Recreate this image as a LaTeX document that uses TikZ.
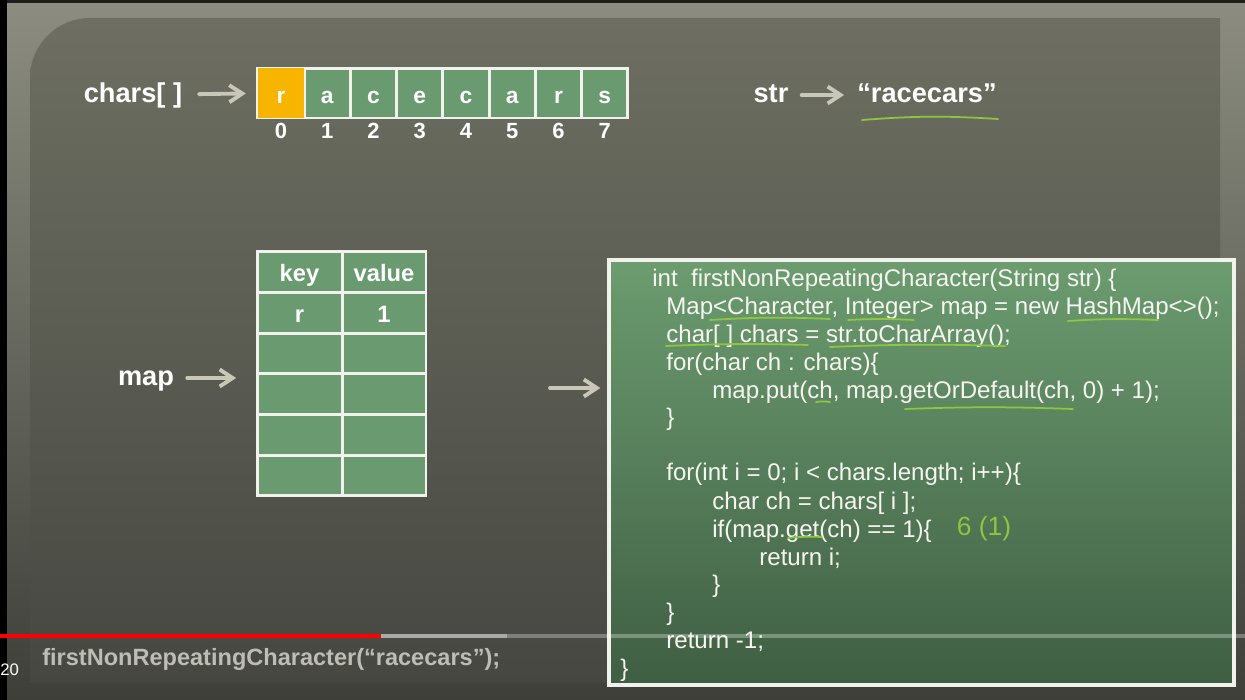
\documentclass[tikz,border=0pt]{standalone}
\usepackage{fontspec}
\setmainfont{Liberation Sans}
\usepackage{xcolor}
\definecolor{RimTop}{HTML}{8C8D80}
\definecolor{RimBot}{HTML}{3E3F39}
\definecolor{BoardTop}{HTML}{6E6F62}
\definecolor{BoardBot}{HTML}{464741}
\definecolor{Strip}{HTML}{1E1E1E}
\definecolor{Cell}{HTML}{6A9A6F}
\definecolor{Gold}{HTML}{F7B500}
\definecolor{Frame}{HTML}{F2F2EC}
\definecolor{Pointer}{HTML}{C9C7B8}
\definecolor{Lime}{HTML}{8DC63F}
\definecolor{Chalk}{HTML}{F6F6F0}
\definecolor{CodeTop}{HTML}{6C9C70}
\definecolor{CodeBot}{HTML}{3F5E43}
\definecolor{Call}{HTML}{BDBDB5}
\definecolor{Seek}{HTML}{A9A9A5}
\usetikzlibrary{arrows.meta}

\begin{document}
\begin{tikzpicture}[x=0.02cm,y=-0.02cm,
  ptr/.style={-{Straight Barb[length=2.6mm,width=3.4mm]},line width=2.2pt,Pointer,line cap=round},
  lbl/.style={text=white,text height=11pt,text depth=3pt,font=\fontsize{15.5}{18}\selectfont\bfseries},
  cell/.style={draw=Frame,line width=1.7pt,fill=Cell,minimum width=0.925cm,minimum height=1cm,inner sep=0pt,text height=12pt,text depth=0.6pt,text=white,font=\fontsize{13}{15}\selectfont\bfseries},
  idx/.style={text=white,font=\fontsize{12.5}{14}\selectfont\bfseries},
  slot/.style={draw=Frame,line width=1.7pt,fill=Cell,minimum height=0.813cm,inner sep=0pt,text height=12pt,text depth=1pt,text=white,font=\fontsize{13.5}{16}\selectfont\bfseries},
  loc/.style={anchor=base west,inner sep=0pt,text=Chalk,font=\fontsize{13.7}{16}\selectfont},
  scrawl/.style={Lime,line width=1pt,line cap=round}]
\useasboundingbox (0,0) rectangle (1245,700);
% slide background
\fill[black] (0,0) rectangle (1245,700);
\shade[top color=RimTop,bottom color=RimBot] (7,3) rectangle (1245,700);
\fill[Strip] (7,0) rectangle (1245,3);
\shade[top color=BoardTop,bottom color=BoardBot] (30,683) -- (30,78) arc[start angle=180,end angle=270,radius=60] -- (1220,18) -- (1220,683) -- cycle;

% chars array
\node[lbl] (chars) at (133,95) {chars[ ]};
\foreach \ch [count=\i from 0] in {r,a,c,e,c,a,r,s}{
  \node[cell] (a\i) at ({281+46.25*\i},93) {\ch};
  \node[idx] (i\i) at ({281+46.25*\i},131) {\i};
}
\fill[Gold] ([xshift=0.85pt,yshift=-0.85pt]a0.north west) rectangle ([xshift=-0.85pt,yshift=0.85pt]a0.south east);
\node[cell,draw=none,fill=none] at (a0) {r};
\draw[ptr,shorten <=6pt,shorten >=6pt] (chars) -- (a0);

% str
\node[lbl] (str) at (771,95) {str};
\node[lbl] (lit) at (927,95) {“racecars”};
\draw[ptr,shorten <=4pt,shorten >=4pt] (str) -- (lit);
\draw[scrawl] (862,120) to[bend left=4] (998,119);

% map table
\node[lbl] (map) at (146,378) {map};
\foreach \k/\v [count=\r from 0] in {key/value,r/1,/,/,/,/}{
  \node[slot,minimum width=1.7cm] (k\r) at (299.5,{272.3+40.67*\r}) {\k};
  \node[slot,minimum width=1.68cm] (v\r) at (384,{272.3+40.67*\r}) {\v};
}
\draw[ptr,shorten <=4pt,shorten >=11pt] (map) -- (map -| k3.west);

% code
\node[draw=Frame,line width=1.9pt,top color=CodeTop,bottom color=CodeBot,minimum width=12.5cm,minimum height=8.5cm] (code) at (921.5,472.5) {};
\coordinate (codein) at (550,388);
\draw[ptr,shorten >=4pt] (codein) -- (codein -| code.west);

\node[loc] (c1) at (652,286) {int~~firstNonRepeatingCharacter(String str) \{};
\node[loc] (c2) at (666,314) {Map<Character, Integer> map = new HashMap<>();};
\node[loc] (c3) at (666,342) {char[ ] chars = str.toCharArray();};
\node[loc] (c4) at (666,370) {for(char ch : chars)\{};
\node[loc] (c5) at (712,398) {map.put(ch, map.getOrDefault(ch, 0) + 1);};
\node[loc] (c6) at (666,425) {\}};
\node[loc] (c7) at (666,480) {for(int i = 0; i < chars.length; i++)\{};
\node[loc] (c8) at (712,509) {char ch = chars[ i ];};
\node[loc] (c9) at (712,537) {if(map.get(ch) == 1)\{};
\node[loc] (c10) at (759,565) {return i;};
\node[loc] (c11) at (712,592) {\}};
\node[loc] (c12) at (666,620) {\}};
\node[loc] (c13) at (666,648) {return -1;};
\node[loc] (c14) at (620,676) {\}};
\node[text=Lime,font=\fontsize{15}{17}\selectfont] (note) at (984,529) {6 (1)};

% chalk underlines
\draw[scrawl] (710,320) to[bend left=3] (830,319);
\draw[scrawl] (848,320) to[bend left=3] (914,320);
\draw[scrawl] (1068,321) to[bend left=3] (1158,320);
\draw[scrawl] (666,346) to[bend left=2] (808,345);
\draw[scrawl] (830,347) to[bend left=2] (1005,346);
\draw[scrawl] (816,402) to[bend left=8] (830,402);
\draw[scrawl] (905,409) to[bend left=2] (1073,409);
\draw[scrawl] (788,538) to[bend left=4] (822,537);

% player bar
\draw[line width=2.3pt,white,opacity=0.3] (0,636) -- (1245,636);
\draw[line width=2.3pt,Seek] (381,636) -- (507,636);
\draw[line width=2.3pt,red] (0,636) -- (381,636);
\node[anchor=base west,inner sep=0pt,text=Call,font=\fontsize{13.4}{16}\selectfont\bfseries] (call) at (42,665) {firstNonRepeatingCharacter(“racecars”);};
\node[anchor=base west,inner sep=0pt,text=white,font=\fontsize{9.5}{11}\selectfont] (time) at (0,675) {20};
\end{tikzpicture}
\end{document}
